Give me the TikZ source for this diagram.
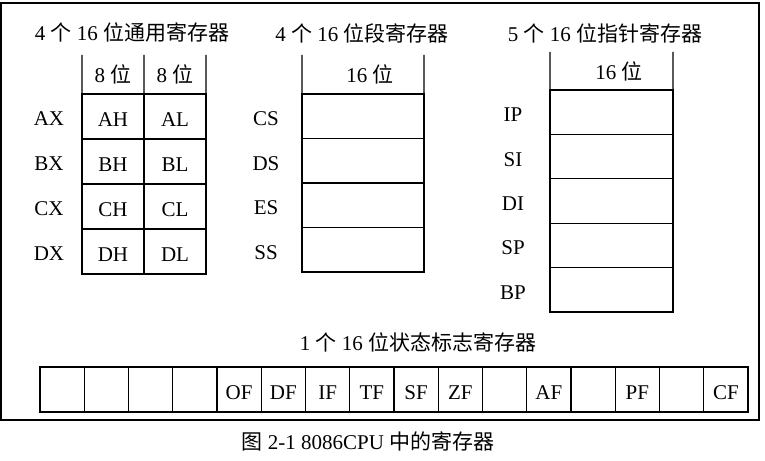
\documentclass[tikz,border=0pt]{standalone}
\usepackage{fontspec}
\setmainfont{Liberation Serif}
\newfontfamily\cjk{Noto Sans CJK SC}
\newcommand{\zh}[1]{{\cjk #1}}
\begin{document}
\begin{tikzpicture}[x=1bp,y=-1bp,
  lbl/.style={font=\fontsize{21bp}{24bp}\selectfont, inner sep=0pt, text height=19bp, text depth=0pt},
  ttl/.style={font=\fontsize{21bp}{24bp}\selectfont, inner sep=0pt},
  cell/.style={draw, line width=1.1bp, outer sep=0pt, inner sep=0pt, font=\fontsize{21bp}{24bp}\selectfont, text height=19.5bp, text depth=0pt},
  gcell/.style={cell, minimum width=62bp, minimum height=45bp},
  scell/.style={cell, minimum width=122bp, minimum height=44.5bp},
  pcell/.style={cell, minimum width=123bp, minimum height=44.4bp},
  fcell/.style={cell, minimum width=44.25bp, minimum height=45bp},
  rule/.style={line width=1.1bp}]
\useasboundingbox (0,0) rectangle (765,461);
\node[draw, line width=1.1bp, minimum width=758bp, minimum height=417bp, inner sep=0pt] (frame) at (380,211.5) {};

% general registers
\node[ttl] (t1) at (132,33) {4 \zh{个} 16 \zh{位通用寄存器}};
\foreach \r/\h/\l/\y in {A/AH/AL/116.5, B/BH/BL/161.5, C/CH/CL/206.5, D/DH/DL/251.5}{
  \node[gcell] (\r h) at (113,\y) {\h};
  \node[gcell] (\r l) at (175,\y) {\l};
  \node[lbl] (\r x) at (49,\y) {\r X};
}
\coordinate (g1) at (82,55);
\coordinate (g2) at (144,55);
\coordinate (g3) at (206,55);
\draw[rule] (g1) -- (Ah.north west);
\draw[rule] (g2) -- (Ah.north east);
\draw[rule] (g3) -- (Al.north east);
\node[lbl] (h8a) at (113,73) {8 \zh{位}};
\node[lbl] (h8b) at (175,73) {8 \zh{位}};

% segment registers
\node[ttl] (t2) at (362,33) {4 \zh{个} 16 \zh{位段寄存器}};
\foreach \n/\y in {CS/116.25, DS/160.75, ES/205.25, SS/249.75}{
  \node[scell] (\n) at (363,\y) {};
  \node[lbl] (l\n) at (266,\y) {\n};
}
\coordinate (s1) at (302,55);
\coordinate (s2) at (424,55);
\draw[rule] (s1) -- (CS.north west);
\draw[rule] (s2) -- (CS.north east);
\node[lbl] (h16a) at (370,73) {16 \zh{位}};

% pointer registers
\node[ttl] (t3) at (605,33) {5 \zh{个} 16 \zh{位指针寄存器}};
\foreach \n/\y in {IP/112.2, SI/156.6, DI/201, SP/245.4, BP/289.8}{
  \node[pcell] (\n) at (611.5,\y) {};
  \node[lbl] (l\n) at (513,\y) {\n};
}
\coordinate (p1) at (550,52);
\coordinate (p2) at (673,52);
\draw[rule] (p1) -- (IP.north west);
\draw[rule] (p2) -- (IP.north east);
\node[lbl] (h16b) at (619,70) {16 \zh{位}};

% flag register
\node[ttl] (t4) at (418,342) {1 \zh{个} 16 \zh{位状态标志寄存器}};
\foreach \i/\t in {0/,1/,2/,3/,4/OF,5/DF,6/IF,7/TF,8/SF,9/ZF,10/,11/AF,12/,13/PF,14/,15/CF}{
  \node[fcell] (f\i) at ({40+44.25*\i+22.125},389.5) {\t};
}

% caption
\node[ttl] (cap) at (368,441) {\zh{图} 2-1 8086CPU \zh{中的寄存器}};
\end{tikzpicture}
\end{document}
